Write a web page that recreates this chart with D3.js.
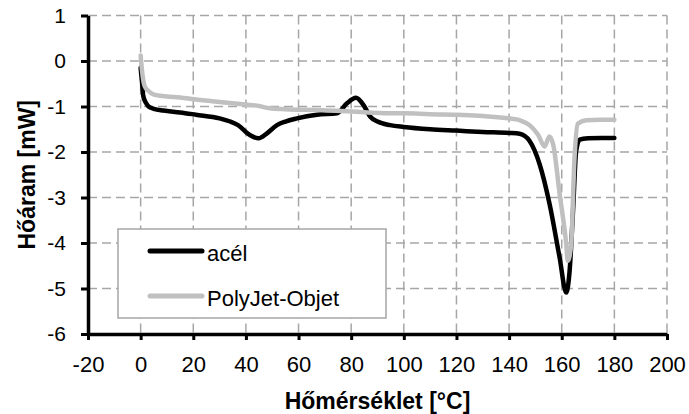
<!DOCTYPE html>
<html>
<head>
<meta charset="utf-8">
<script src="https://cdn.jsdelivr.net/npm/d3@7"></script>
<style>
  body { margin: 0; background: #fff; }
  text { font-family: "Liberation Sans", Arial, sans-serif; fill: #000; }
  .tick text { font-size: 21px; }
  .x-axis .tick text { font-size: 22px; }
  .axis-title { font-size: 23px; font-weight: bold; }
  .legend text { font-size: 22px; }
</style>
</head>
<body>
<div id="chart"></div>
<script>
/* DATA */
const seriesNames = ["acél", "PolyJet-Objet"];
const seriesColors = ["#000000", "#c0c0c0"];

const acelTemp = [0, 0.5, 1, 2, 3, 5, 8.6, 15, 21, 30, 34, 37, 41.6, 44.8, 48, 51.8, 55, 59.4, 67, 74.6, 78.4, 81.8, 84.7, 87.2, 90, 94.8, 100, 110, 120, 130, 140, 144, 147.8, 151.6, 155.4, 159.2, 161.7, 163, 164.3, 165.5, 166.8, 170, 175, 180];
const acelFlow = [-0.15, -0.45, -0.77, -0.92, -1.0, -1.05, -1.09, -1.13, -1.18, -1.26, -1.33, -1.41, -1.63, -1.70, -1.59, -1.41, -1.33, -1.26, -1.18, -1.15, -0.93, -0.81, -0.97, -1.22, -1.33, -1.41, -1.45, -1.50, -1.53, -1.56, -1.58, -1.60, -1.76, -2.27, -3.15, -4.32, -5.09, -4.61, -3.29, -1.97, -1.73, -1.70, -1.69, -1.69];

const polyTemp = [0, 0.5, 1.5, 3, 4.7, 6, 10, 15, 20.3, 30, 38.8, 45, 49, 55, 69.2, 80, 94.8, 100, 110, 120, 130, 140, 144, 148, 151, 153.5, 155.3, 156.8, 159.2, 161.7, 162.3, 163.6, 164.8, 166.1, 169.3, 174.4, 180];
const polyFlow = [0.12, -0.2, -0.55, -0.66, -0.73, -0.75, -0.78, -0.80, -0.84, -0.90, -0.95, -0.99, -1.04, -1.06, -1.08, -1.11, -1.15, -1.15, -1.17, -1.18, -1.21, -1.26, -1.30, -1.42, -1.62, -1.88, -1.66, -1.85, -2.92, -4.02, -4.39, -4.02, -2.2, -1.38, -1.30, -1.29, -1.29];

const xTicks = [-20, 0, 20, 40, 60, 80, 100, 120, 140, 160, 180, 200];
const yTicks = [1, 0, -1, -2, -3, -4, -5, -6];

/* LAYOUT */
const width = 689,
  height = 414,
  margin = { top: 15.5, right: 22, bottom: 80, left: 88 };

const series = [
  { name: seriesNames[0], color: seriesColors[0], values: acelTemp.map((t, i) => ({ x: t, y: acelFlow[i] })) },
  { name: seriesNames[1], color: seriesColors[1], values: polyTemp.map((t, i) => ({ x: t, y: polyFlow[i] })) }
];

const svg = d3.select("#chart")
  .append("svg")
  .attr("width", width)
  .attr("height", height);

// scales
const xScale = d3.scaleLinear()
  .domain([-20, 200])
  .range([margin.left, width - margin.right]);

const yScale = d3.scaleLinear()
  .domain([-6, 1])
  .range([height - margin.bottom, margin.top]);

// grid
const grid = svg.append("g").attr("class", "grid")
  .attr("stroke", "#a6a6a6")
  .attr("stroke-width", 1.5)
  .attr("stroke-dasharray", "9,5");

grid.selectAll("line.h")
  .data(yTicks.filter(d => d > -6))
  .join("line")
  .attr("class", "h")
  .attr("x1", xScale(-20))
  .attr("x2", xScale(200))
  .attr("y1", d => yScale(d))
  .attr("y2", d => yScale(d));

grid.selectAll("line.v")
  .data(xTicks.filter(d => d > -20))
  .join("line")
  .attr("class", "v")
  .attr("x1", d => xScale(d))
  .attr("x2", d => xScale(d))
  .attr("y1", yScale(1))
  .attr("y2", yScale(-6));

// lines
const lineFunc = d3.line()
  .x(d => xScale(d.x))
  .y(d => yScale(d.y))
  .curve(d3.curveMonotoneX);

svg.selectAll("path.series")
  .data(series)
  .join("path")
  .attr("class", "series")
  .attr("fill", "none")
  .attr("stroke", d => d.color)
  .attr("stroke-width", 4.5)
  .attr("stroke-linejoin", "round")
  .attr("stroke-linecap", "round")
  .attr("d", d => lineFunc(d.values));

// axes
const plainFormat = d => String(d);
const xAxis = d3.axisBottom(xScale).tickValues(xTicks).tickFormat(plainFormat).tickSize(6).tickPadding(16).tickSizeOuter(0);
const yAxis = d3.axisLeft(yScale).tickValues(yTicks).tickFormat(plainFormat).tickSize(7).tickPadding(15).tickSizeOuter(0);

const gx = svg.append("g")
  .attr("class", "axis x-axis")
  .attr("transform", `translate(0,${yScale(-6)})`)
  .call(xAxis);

const gy = svg.append("g")
  .attr("class", "axis y-axis")
  .attr("transform", `translate(${xScale(-20)},0)`)
  .call(yAxis);

[gx, gy].forEach(g => {
  g.select(".domain").attr("stroke", "#000").attr("stroke-width", 3.5);
  g.selectAll(".tick line").attr("stroke", "#000").attr("stroke-width", 3);
  g.selectAll(".tick text").attr("font-family", null).attr("font-size", null);
});

// axis titles
svg.append("text")
  .attr("class", "axis-title")
  .attr("x", (xScale(-20) + xScale(200)) / 2)
  .attr("y", 409)
  .attr("text-anchor", "middle")
  .text("Hőmérséklet [°C]");

svg.append("text")
  .attr("class", "axis-title")
  .attr("transform", `translate(35,${(yScale(1) + yScale(-6)) / 2}) rotate(-90)`)
  .attr("text-anchor", "middle")
  .text("Hőáram [mW]");

// legend
const legend = svg.append("g").attr("class", "legend");

legend.append("rect")
  .attr("x", 118)
  .attr("y", 229)
  .attr("width", 268)
  .attr("height", 89)
  .attr("fill", "#fff")
  .attr("stroke", "#a6a6a6")
  .attr("stroke-width", 1.5);

const item = legend.selectAll("g.item")
  .data(series)
  .join("g")
  .attr("class", "item")
  .attr("transform", (d, i) => `translate(150,${251 + i * 45})`);

item.append("line")
  .attr("x1", 0)
  .attr("x2", 52)
  .attr("stroke", d => d.color)
  .attr("stroke-width", 5)
  .attr("stroke-linecap", "round");

item.append("text")
  .attr("x", 57)
  .attr("y", 10)
  .text(d => d.name);
</script>
</body>
</html>
